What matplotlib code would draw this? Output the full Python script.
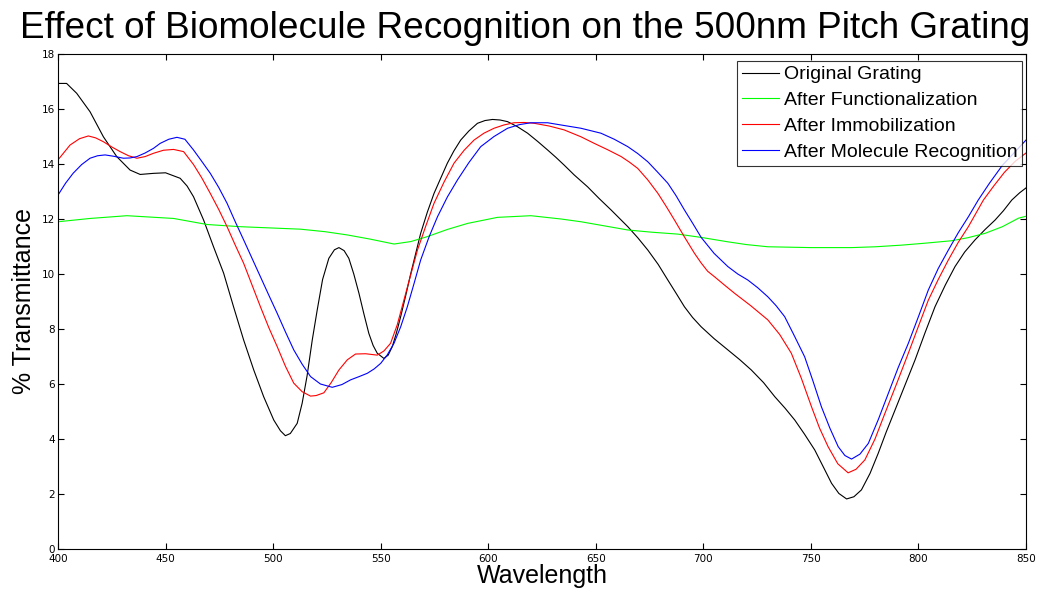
import matplotlib
matplotlib.use("Agg")
import matplotlib.pyplot as plt

# ---- data ----
orig_x = [400, 404, 408.7, 414.9, 421.1, 427.3, 433.5, 438.2, 444.4, 450, 456.8, 460, 463, 467.7,
          472.3, 477, 481.6, 486.3, 491, 495.6, 500.3, 503.4, 505.7, 508, 511.2, 513.5, 515.8,
          518.2, 520.5, 523, 525.9, 528.5, 530.6, 533, 535.2, 537.5, 539.9, 542.2, 544.5, 546.5,
          548.4, 551.5, 553.5, 555.4, 557.3, 559.3, 561.6, 564, 568.6, 571.7, 574.8, 578, 581,
          584, 587.2, 591, 595, 598.5, 602, 605.5, 609, 613.5, 618.3, 623, 627.6, 631.5, 635.3,
          640, 646.2, 651.5, 657.1, 664.9, 669.5, 674.2, 679, 683.5, 687.5, 691.2, 695, 699, 705,
          711.4, 717, 722.3, 728, 733.2, 738, 742.5, 747, 751.8, 756, 759.6, 763, 766.6, 770,
          773.5, 777.5, 781.3, 785, 789.1, 798.4, 803, 807.7, 812.5, 817, 821.5, 826.3, 831,
          835.6, 839.5, 843.4, 847, 850]
orig_y = [16.93, 16.93, 16.57, 15.9, 14.99, 14.27, 13.78, 13.62, 13.66, 13.68, 13.48, 13.2, 12.81, 11.96,
          10.99, 10.03, 8.81, 7.6, 6.51, 5.54, 4.69, 4.3, 4.12, 4.2, 4.57, 5.3, 6.3,
          7.6, 8.69, 9.8, 10.57, 10.88, 10.96, 10.85, 10.57, 10.0, 9.3, 8.55, 7.84, 7.4,
          7.12, 6.93, 7.05, 7.36, 7.85, 8.45, 9.2, 10.02, 11.48, 12.25, 12.93, 13.5, 14.03,
          14.47, 14.87, 15.2, 15.48, 15.58, 15.62, 15.6, 15.54, 15.36, 15.12, 14.82, 14.51, 14.24, 13.96,
          13.6, 13.17, 12.75, 12.33, 11.72, 11.32, 10.87, 10.35, 9.78, 9.28, 8.81, 8.42, 8.08, 7.65,
          7.24, 6.88, 6.51, 6.05, 5.54, 5.12, 4.69, 4.18, 3.6, 2.95, 2.39, 2.02, 1.82, 1.9,
          2.15, 2.75, 3.48, 4.25, 5.05, 6.87, 7.85, 8.81, 9.6, 10.27, 10.8, 11.24, 11.62,
          11.96, 12.3, 12.69, 12.95, 13.13]

func_x = [400, 414.9, 432, 453.7, 469.3, 484.8, 503.4, 512.7, 524, 534.5, 545, 556.2, 564, 571.7,
          581, 590.4, 604.3, 619.8, 633.8, 643.1, 654, 664.9, 676, 688.2, 699, 711.4, 720, 730,
          750, 768.9, 780, 792.2, 803, 815.5, 823, 831, 839, 846.5, 850]
func_y = [11.9, 12.02, 12.12, 12.02, 11.8, 11.72, 11.66, 11.63, 11.54, 11.42, 11.27, 11.09, 11.18, 11.36,
          11.62, 11.84, 12.06, 12.12, 12.0, 11.9, 11.75, 11.6, 11.52, 11.45, 11.33, 11.17, 11.07, 10.99,
          10.96, 10.96, 10.99, 11.05, 11.12, 11.21, 11.32, 11.48, 11.72, 12.03, 12.1]

immo_x = [400, 405.6, 410, 414.1, 417.5, 421.1, 425, 428.9, 432.8, 436.7, 440.5, 444.4, 449, 453.7,
          458.4, 463, 466.8, 470.8, 474.7, 478.6, 482.4, 486.3, 490.2, 494.1, 498, 501.9, 505.7,
          509.6, 513.5, 517.4, 520, 523.6, 527, 530.6, 534.5, 538.3, 543, 548.4, 551.5, 554.6,
          557.7, 560.8, 564, 567.1, 571, 574.8, 579.5, 584.1, 588.8, 593.4, 598, 602.7, 607.3,
          612, 616.7, 621.4, 628.4, 635.3, 643.1, 649.3, 655.5, 661.8, 665.6, 669.5, 674.2, 678.9,
          682.8, 686.6, 691.2, 695.9, 699, 702, 705.2, 709.8, 714.5, 722, 730, 735.5, 740.9, 745.6,
          750.3, 754, 758, 762.5, 767.3, 771, 775.1, 779.8, 784.4, 789.8, 795.3, 800, 804.6, 809.2,
          813.9, 818.5, 823.2, 830.2, 835, 840, 845, 850]
immo_y = [14.15, 14.69, 14.92, 15.02, 14.95, 14.81, 14.62, 14.45, 14.3, 14.21, 14.27, 14.39, 14.5, 14.53,
          14.45, 13.98, 13.5, 12.93, 12.35, 11.72, 11.05, 10.39, 9.6, 8.81, 8.05, 7.36, 6.65,
          6.03, 5.72, 5.56, 5.58, 5.68, 6.05, 6.51, 6.88, 7.09, 7.1, 7.05, 7.2, 7.48,
          8.15, 9.05, 9.98, 10.87, 11.75, 12.57, 13.35, 14.03, 14.5, 14.87, 15.12, 15.3, 15.42,
          15.5, 15.51, 15.48, 15.38, 15.24, 14.99, 14.75, 14.52, 14.27, 14.07, 13.84, 13.42, 12.93,
          12.45, 11.96, 11.35, 10.75, 10.4, 10.1, 9.9, 9.6, 9.3, 8.85, 8.33, 7.8, 7.12, 6.2,
          5.17, 4.4, 3.72, 3.1, 2.77, 2.9, 3.24, 4.0, 4.93, 6.0, 7.12, 8.1, 9.05, 9.8,
          10.51, 11.15, 11.72, 12.69, 13.2, 13.7, 14.1, 14.4]

mole_x = [400, 403.5, 407, 411, 414.9, 418.4, 421.9, 426, 430.4, 433.5, 436.7, 440.5, 444.4, 447.5,
          451.5, 455.3, 459, 463, 466.8, 470.8, 474.7, 478.6, 482.4, 486.3, 490.2, 494.1, 498,
          501.9, 505.7, 509.6, 513.5, 517.4, 522, 527.5, 532, 536, 540, 543.8, 547, 550, 553,
          556.2, 559.3, 562.4, 565.5, 568.6, 572.5, 576.4, 581, 585.7, 591, 596.5, 602.7, 609,
          614.4, 619.8, 627.6, 635.3, 643.1, 652.4, 658.6, 664.9, 669.5, 674.2, 678.8, 683.5,
          687.3, 691.2, 695, 699, 705, 711.4, 716, 720.7, 725.3, 730, 733.8, 737.8, 742, 747.1,
          751, 754.9, 758.8, 762.7, 765.8, 768.9, 772.8, 776.7, 781.3, 786, 790.6, 795.3, 800,
          804.6, 809.2, 813.9, 818.5, 823.2, 827.8, 833, 839, 845, 850]
mole_y = [12.87, 13.3, 13.66, 13.98, 14.21, 14.3, 14.33, 14.28, 14.21, 14.22, 14.27, 14.4, 14.57, 14.75,
          14.9, 14.97, 14.9, 14.51, 14.1, 13.66, 13.15, 12.57, 11.9, 11.24, 10.57, 9.9, 9.23,
          8.57, 7.9, 7.24, 6.72, 6.27, 6.0, 5.88, 5.98, 6.15, 6.27, 6.39, 6.55, 6.75, 7.05,
          7.48, 8.08, 8.81, 9.65, 10.51, 11.35, 12.08, 12.8, 13.42, 14.05, 14.63, 15.0, 15.3,
          15.43, 15.5, 15.5, 15.4, 15.3, 15.12, 14.9, 14.63, 14.38, 14.08, 13.7, 13.3,
          12.85, 12.33, 11.85, 11.33, 10.75, 10.27, 10.0, 9.78, 9.5, 9.17, 8.85, 8.45, 7.8, 6.99,
          6.1, 5.17, 4.4, 3.72, 3.4, 3.27, 3.45, 3.84, 4.7, 5.66, 6.6, 7.48, 8.45,
          9.42, 10.2, 10.87, 11.5, 12.08, 12.69, 13.3, 13.95, 14.45, 14.87]

labels = ["Original Grating", "After Functionalization", "After Immobilization",
          "After Molecule Recognition"]
colors = ["#000000", "#00ff00", "#ff0000", "#0000ff"]
xticks = [400, 450, 500, 550, 600, 650, 700, 750, 800, 850]
yticks = [0, 2, 4, 6, 8, 10, 12, 14, 16, 18]

# ---- figure ----
plt.rcParams['font.family'] = ['Liberation Sans', 'DejaVu Sans']
fig = plt.figure(figsize=(10.37, 5.95), dpi=100)
ax = fig.add_axes([58/1037, 1-549/595, (1026-58)/1037, (549-54)/595])

for xs, ys, c, lab in zip([orig_x, func_x, immo_x, mole_x],
                          [orig_y, func_y, immo_y, mole_y], colors, labels):
    ax.plot(xs, ys, color=c, lw=0.8, label=lab)

ax.set_xlim(400, 850)
ax.set_ylim(0, 18)
ax.set_xticks(xticks)
ax.set_yticks(yticks)
ax.tick_params(direction='in', length=4, width=0.8, top=True, right=True, labelsize=7.5)
ax.tick_params(axis='x', pad=3.5)
ax.tick_params(axis='y', pad=2)
for lbl in ax.get_xticklabels() + ax.get_yticklabels():
    lbl.set_family(['Liberation Sans Narrow', 'DejaVu Sans'])
for s in ax.spines.values():
    s.set_linewidth(0.8)

ax.set_xlabel("Wavelength", fontsize=18, labelpad=0)
ax.set_ylabel("% Transmittance", fontsize=18, labelpad=4)
fig.text(0.506, 0.952, "Effect of Biomolecule Recognition on the 500nm Pitch Grating",
         ha='center', va='center', fontsize=26.6)

leg = ax.legend(loc='upper right', fontsize=14, frameon=True, fancybox=False,
                borderpad=0.25, labelspacing=0.42, handlelength=1.9, handletextpad=0.25,
                borderaxespad=0.0, bbox_to_anchor=(0.9959, 0.986))
leg.get_frame().set_edgecolor('black')
leg.get_frame().set_linewidth(0.8)

fig.savefig("out.png", dpi=100)
